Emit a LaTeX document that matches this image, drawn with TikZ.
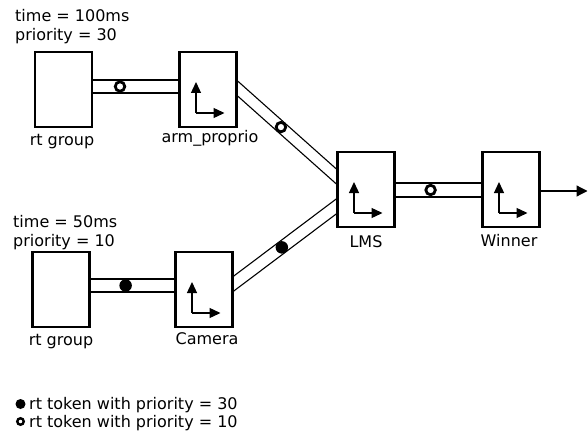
\documentclass[tikz,border=0pt]{standalone}
\usepackage{fontspec}
\setmainfont{DejaVu Sans}
\usetikzlibrary{calc,arrows.meta}
\begin{document}
\begin{tikzpicture}[x=1pt,y=-1pt,
  procbox/.style={draw,rectangle,line width=2.6pt,minimum width=57pt,minimum height=75pt,inner sep=0pt,outer sep=0pt},
  chan/.style={line width=1.1pt},
  lbl/.style={anchor=base,inner sep=0pt,font=\fontsize{16}{19}\selectfont},
  txt/.style={anchor=base west,inner sep=0pt,font=\fontsize{16}{19}\selectfont},
  opentok/.style={circle,draw,line width=2.8pt,fill=white,minimum size=9.5pt,inner sep=0pt},
  filltok/.style={circle,fill=black,minimum size=12.5pt,inner sep=0pt},
  inarrow/.style={line width=1.3pt,-{Triangle[length=11pt,width=10pt]}},
  outarrow/.style={line width=1.2pt,-{Triangle[length=11pt,width=11pt]}}
]
\useasboundingbox (0,0) rectangle (588,433);

% boxes
\node[procbox] (rt1) at (63.5,89.5) {};
\node[procbox] (arm) at (208,89.5) {};
\node[procbox] (rt2) at (61,289.5) {};
\node[procbox] (cam) at (204,289.5) {};
\node[procbox] (lms) at (366,189.5) {};
\node[procbox] (win) at (511,189.5) {};

% inner arrows
\foreach \b in {arm,cam,lms,win}{
  \coordinate (\b-c) at ($(\b.north west)+(16.5,61)$);
  \draw[inarrow] (\b-c) -- ($(\b.north west)+(16.5,30)$);
  \draw[inarrow] (\b-c) -- ($(\b.north west)+(45,61)$);
}

% labels
\node[txt] (t1) at (15,22) {time = 100ms};
\node[txt] (p1) at (15,41) {priority = 30};
\node[txt] (t2) at (13,227) {time = 50ms};
\node[txt] (p2) at (13,246) {priority = 10};
\node[lbl] (l-rt1) at (62,145) {rt group};
\node[lbl] (l-arm) at (210,142) {arm\_proprio};
\node[lbl] (l-rt2) at (61,345) {rt group};
\node[lbl] (l-cam) at (207,344) {Camera};
\node[lbl] (l-lms) at (366,247) {LMS};
\node[lbl] (l-win) at (509,246) {Winner};

% channel rt1 -> arm
\draw[chan] ($(rt1.east)+(0,-9.5)$) -- ($(arm.west)+(0,-9.5)$);
\draw[chan] ($(rt1.east)+(0,3.5)$) -- ($(arm.west)+(0,3.5)$);
\node[opentok] (k1) at ($($(rt1.east)+(0,-3)$)!0.32!($(arm.west)+(0,-3)$)$) {};

% channel rt2 -> cam
\draw[chan] ($(rt2.east)+(0,-10.5)$) -- ($(cam.west)+(0,-10.5)$);
\draw[chan] ($(rt2.east)+(0,2.5)$) -- ($(cam.west)+(0,2.5)$);
\node[filltok] (k2) at ($($(rt2.east)+(0,-4)$)!0.42!($(cam.west)+(0,-4)$)$) {};

% diagonal arm -> lms
\draw[chan] ($(arm.east)+(0,-9.5)$) -- ($(lms.west)+(0,-19.5)$);
\draw[chan] ($(arm.east)+(0,5.5)$) -- ($(lms.west)+(0,-4.5)$);
\node[opentok] (k3) at ($($(arm.east)+(0,-2)$)!0.44!($(lms.west)+(0,-12)$)$) {};

% diagonal cam -> lms
\draw[chan] ($(cam.east)+(0,-12.5)$) -- ($(lms.west)+(0,8.5)$);
\draw[chan] ($(cam.east)+(0,2.5)$) -- ($(lms.west)+(0,23.5)$);
\node[filltok] (k4) at ($($(cam.east)+(0,-5)$)!0.47!($(lms.west)+(0,16)$)$) {};

% channel lms -> win
\draw[chan] ($(lms.east)+(0,-6.5)$) -- ($(win.west)+(0,-6.5)$);
\draw[chan] ($(lms.east)+(0,7.5)$) -- ($(win.west)+(0,7.5)$);
\node[opentok] (k5) at ($($(lms.east)+(0,0.5)$)!0.41!($(win.west)+(0,0.5)$)$) {};

% output
\coordinate (out) at (587.5,191);
\draw[outarrow] ($(win.east)+(0,1.5)$) -- (out);

% legend
\node[circle,fill=black,minimum size=10pt,inner sep=0pt] (lg1) at (20.5,404) {};
\node[circle,draw,line width=2.4pt,minimum size=6.5pt,inner sep=0pt] (lg2) at (20.5,421.5) {};
\node[txt] (lt1) at (29,409) {rt token with priority = 30};
\node[txt] (lt2) at (29,427) {rt token with priority = 10};
\end{tikzpicture}
\end{document}
